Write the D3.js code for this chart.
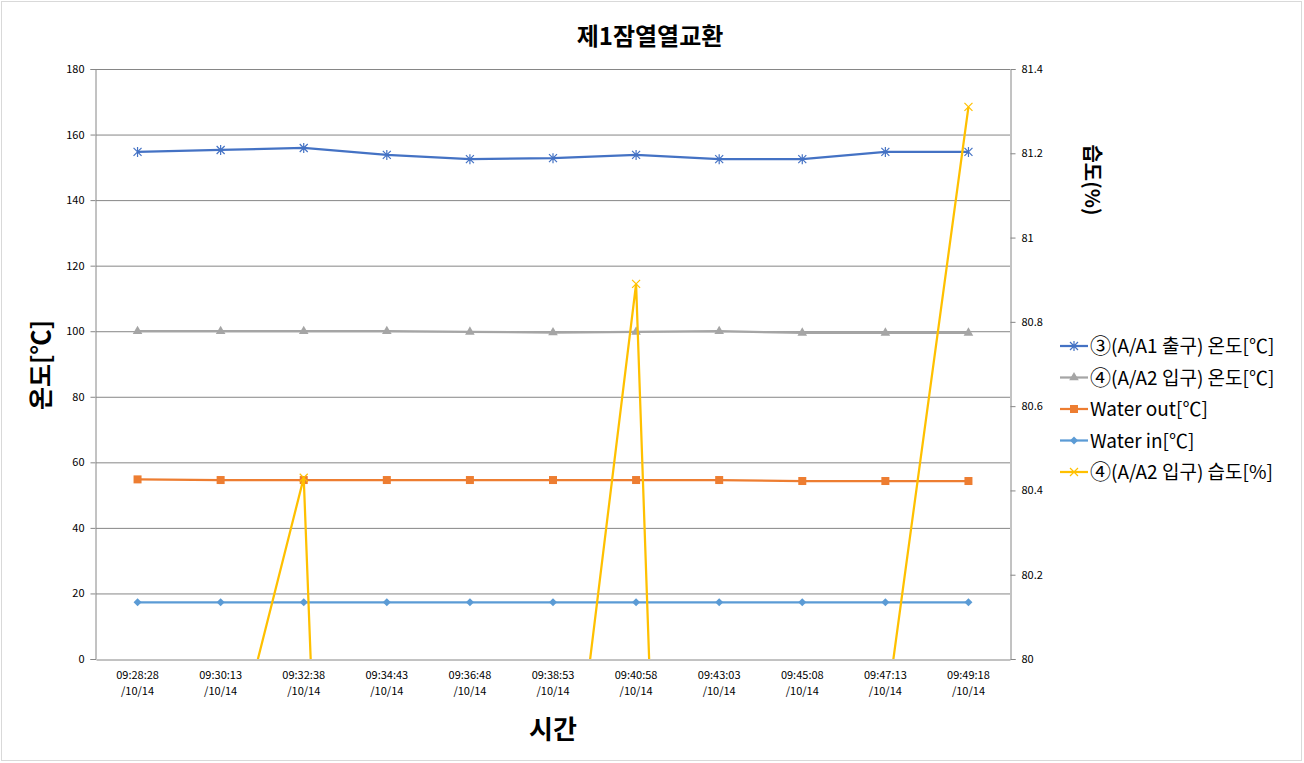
<!DOCTYPE html>
<html>
<head>
<meta charset="utf-8">
<script src="https://cdn.jsdelivr.net/npm/d3@7"></script>
<style>
  body { margin: 0; background: #fff; }
  text { font-family: "Noto Sans CJK KR", "Noto Sans", sans-serif; }
</style>
</head>
<body>
<svg id="chart" width="1304" height="763"></svg>
<script>
const times = ['09:28:28', '09:30:13', '09:32:38', '09:34:43', '09:36:48', '09:38:53',
  '09:40:58', '09:43:03', '09:45:08', '09:47:13', '09:49:18'];
const dateLabel = '/10/14';

const a1Out = [154.7, 155.3, 155.9, 153.8, 152.5, 152.8, 153.8, 152.5, 152.5, 154.7, 154.7];
const a2In = [100, 100, 100, 100, 99.8, 99.6, 99.8, 100, 99.5, 99.5, 99.5];
const waterOut = [54.8, 54.6, 54.6, 54.6, 54.6, 54.6, 54.6, 54.6, 54.3, 54.3, 54.3];
const waterIn = [17.3, 17.3, 17.3, 17.3, 17.3, 17.3, 17.3, 17.3, 17.3, 17.3, 17.3];
const humidity = [79.5, 79.65, 80.43, 75.29, 76, 79.28, 80.89, 75.22, 76, 79.86, 81.31];

const leftTicks = [0, 20, 40, 60, 80, 100, 120, 140, 160, 180];
const rightTicks = [80, 80.2, 80.4, 80.6, 80.8, 81, 81.2, 81.4];

const series = [
  { num: '③', name: '(A/A1 출구) 온도[℃]', values: a1Out, color: '#4472C4', marker: 'star', axis: 'left' },
  { num: '④', name: '(A/A2 입구) 온도[℃]', values: a2In, color: '#A5A5A5', marker: 'triangle', axis: 'left' },
  { num: '', name: 'Water out[℃]', values: waterOut, color: '#ED7D31', marker: 'square', axis: 'left' },
  { num: '', name: 'Water in[℃]', values: waterIn, color: '#5B9BD5', marker: 'diamond', axis: 'left' },
  { num: '④', name: '(A/A2 입구) 습도[%]', values: humidity, color: '#FFC000', marker: 'cross', axis: 'right' }
];

const svg = d3.select('#chart');
const margin = { top: 69, right: 294, bottom: 104, left: 96 };
const width = 1304 - margin.left - margin.right;
const height = 763 - margin.top - margin.bottom;

// chart border
svg.append('rect')
  .attr('x', 1.5).attr('y', 1.5).attr('width', 1300).attr('height', 759)
  .attr('fill', 'none').attr('stroke', '#d9d9d9');

const x = d3.scaleBand().domain(times).range([0, width]);
const yL = d3.scaleLinear().domain([0, 180]).range([height, 0]);
const yR = d3.scaleLinear().domain([80, 81.4]).range([height, 0]);

const g = svg.append('g').attr('transform', `translate(${margin.left},${margin.top})`);

// gridlines
g.append('g')
  .selectAll('line')
  .data(leftTicks.slice(1))
  .join('line')
  .attr('x1', 0).attr('x2', width)
  .attr('y1', d => yL(d) + 0.5).attr('y2', d => yL(d) + 0.5)
  .attr('stroke', '#868686').attr('stroke-width', 1);

// left axis
const axL = g.append('g')
  .attr('transform', 'translate(-0.5,0)')
  .call(d3.axisLeft(yL).tickValues(leftTicks).tickSize(5).tickPadding(6));
axL.select('.domain').attr('stroke', '#868686');
axL.selectAll('.tick line').attr('stroke', '#868686');
axL.selectAll('.tick text').attr('font-family', 'DejaVu Sans').attr('font-size', 11).attr('fill', '#000');

// right axis
const axR = g.append('g')
  .attr('transform', `translate(${width + 0.5},0)`)
  .call(d3.axisRight(yR).tickValues(rightTicks).tickSize(5).tickPadding(6).tickFormat(d3.format('~g')));
axR.select('.domain').attr('stroke', '#868686');
axR.selectAll('.tick line').attr('stroke', '#868686');
axR.selectAll('.tick text').attr('font-family', 'DejaVu Sans').attr('font-size', 11).attr('fill', '#000');

// bottom axis
const axB = g.append('g')
  .attr('transform', `translate(0,${height + 0.5})`)
  .call(d3.axisBottom(x).tickSize(0).tickPadding(12));
axB.select('.domain').attr('stroke', '#868686');
axB.selectAll('.tick text')
  .attr('font-family', 'DejaVu Sans').attr('font-size', 11).attr('fill', '#000')
  .text(null)
  .call(t => {
    t.append('tspan').attr('x', 0).attr('dy', '0.71em').text(d => d);
    t.append('tspan').attr('x', 0).attr('dy', '1.45em').text(dateLabel);
  });

// clip
svg.append('defs').append('clipPath').attr('id', 'plot')
  .append('rect').attr('x', 0).attr('y', 0).attr('width', width).attr('height', height);

const cx = d => x(d) + x.bandwidth() / 2;

function drawMarker(sel, type, color) {
  if (type === 'star') {
    sel.append('path').attr('d', 'M-4,-4L4,4M-4,4L4,-4M0,-5L0,5')
      .attr('stroke', color).attr('stroke-width', 1.2).attr('fill', 'none');
  } else if (type === 'cross') {
    sel.append('path').attr('d', 'M-4,-4L4,4M-4,4L4,-4')
      .attr('stroke', color).attr('stroke-width', 1.2).attr('fill', 'none');
  } else if (type === 'triangle') {
    sel.append('path').attr('d', d3.symbol(d3.symbolTriangle, 40)).attr('fill', color);
  } else if (type === 'square') {
    sel.append('rect').attr('x', -4).attr('y', -4).attr('width', 8).attr('height', 8).attr('fill', color);
  } else if (type === 'diamond') {
    sel.append('path').attr('d', 'M0,-4L4,0L0,4L-4,0Z').attr('fill', color);
  }
}

series.forEach(s => {
  const yS = s.axis === 'left' ? yL : yR;
  const pts = times.map((t, i) => [cx(t), yS(s.values[i])]);
  const layer = g.append('g').attr('clip-path', s.axis === 'right' ? 'url(#plot)' : null);
  layer.append('path')
    .attr('d', d3.line()(pts))
    .attr('fill', 'none')
    .attr('stroke', s.color)
    .attr('stroke-width', 2.25);
  pts.forEach(p => {
    if (p[1] < 0 || p[1] > height) return;
    drawMarker(layer.append('g').attr('transform', `translate(${p[0]},${p[1]})`), s.marker, s.color);
  });
});

// title
svg.append('text')
  .attr('x', 650).attr('y', 45)
  .attr('text-anchor', 'middle')
  .attr('font-size', 24).attr('font-weight', 'bold')
  .text('제1잠열열교환');

// axis titles
svg.append('text')
  .attr('x', 553).attr('y', 739)
  .attr('text-anchor', 'middle')
  .attr('font-size', 26).attr('font-weight', 'bold')
  .text('시간');

svg.append('text')
  .attr('transform', 'translate(50,365) rotate(-90)')
  .attr('text-anchor', 'middle')
  .attr('font-size', 25).attr('font-weight', 'bold')
  .text('온도[℃]');

svg.append('text')
  .attr('transform', 'translate(1085,180) rotate(90)')
  .attr('text-anchor', 'middle')
  .attr('font-size', 20).attr('font-weight', 'bold')
  .text('습도(%)');

// legend
const legend = svg.append('g').attr('transform', 'translate(1060,346)');
series.forEach((s, i) => {
  const row = legend.append('g').attr('transform', `translate(0,${i * 31.5})`);
  row.append('line').attr('x1', 0).attr('x2', 28).attr('y1', 0).attr('y2', 0)
    .attr('stroke', s.color).attr('stroke-width', 2.25);
  drawMarker(row.append('g').attr('transform', 'translate(14,0)'), s.marker, s.color);
  const txt = row.append('text')
    .attr('x', 30).attr('y', 7)
    .attr('font-size', 19);
  if (s.num) txt.append('tspan').attr('font-size', 21).text(s.num);
  txt.append('tspan').text(s.name);
});
</script>
</body>
</html>
